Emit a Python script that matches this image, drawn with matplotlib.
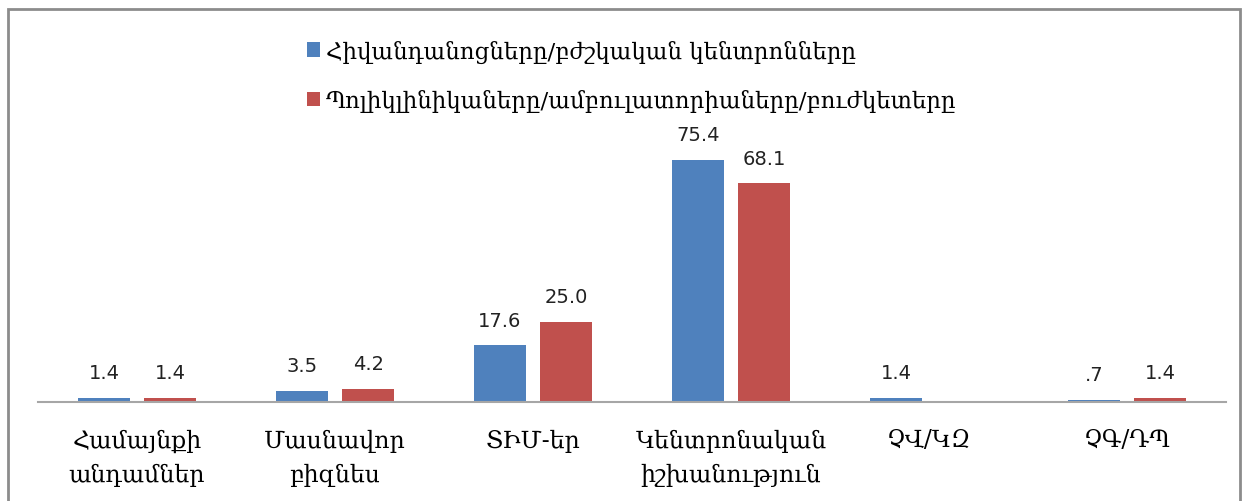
import numpy as np
import matplotlib.pyplot as plt
from matplotlib.patches import Rectangle

categories = ['Համայնքի\nանդամներ', 'Մասնավոր\nբիզնես', 'ՏԻՄ-եր',
              'Կենտրոնական\nիշխանություն', 'ՉՎ/ԿԶ', 'ՉԳ/ԴՊ']
hospitals = [1.4, 3.5, 17.6, 75.4, 1.4, 0.7]
polyclinics = [1.4, 4.2, 25.0, 68.1, np.nan, 1.4]
hospitals_lbl = ['1.4', '3.5', '17.6', '75.4', '1.4', '.7']
polyclinics_lbl = ['1.4', '4.2', '25.0', '68.1', '', '1.4']
series_names = ['Հիվանդանոցները/բժշկական կենտրոնները',
                'Պոլիկլինիկաները/ամբուլատորիաները/բուժկետերը']

blue = '#4f81bd'
red = '#c0504d'
serif = ['DejaVu Serif']

fig = plt.figure(figsize=(12.55, 5.02), dpi=100)
ax = fig.add_axes([38 / 1255, 1 - 403 / 502, 1188 / 1255, 257 / 502])

x = np.arange(len(categories))
w = 0.263
off = 0.167
b1 = ax.bar(x - off, hospitals, w, color=blue, label=series_names[0])
b2 = ax.bar(x + off, polyclinics, w, color=red, label=series_names[1])

for rects, labels in ((b1, hospitals_lbl), (b2, polyclinics_lbl)):
    for r, t in zip(rects, labels):
        if t:
            ax.annotate(t, (r.get_x() + r.get_width() / 2, r.get_height()),
                        xytext=(0, 11), textcoords='offset points',
                        ha='center', va='bottom', fontsize=14, color='#222222')

ax.set_xlim(-0.5, len(categories) - 0.5)
ax.set_ylim(0, 80)
ax.set_xticks(x)
ax.set_xticklabels(categories, fontsize=17, family=serif, linespacing=1.6)
ax.tick_params(axis='x', length=0, pad=19)
ax.set_yticks([])
for s in ['top', 'right', 'left']:
    ax.spines[s].set_visible(False)
ax.spines['bottom'].set_color('#a6a6a6')
ax.spines['bottom'].set_linewidth(1.5)

leg = fig.legend(loc='upper left', bbox_to_anchor=(286 / 1255, 1 - 20 / 502),
                 frameon=False, prop={'family': serif, 'size': 16.5},
                 handlelength=0.6, handleheight=0.6, handletextpad=0.25,
                 labelspacing=1.15)

fig.patches.append(Rectangle((8 / 1255, -0.05), 1232 / 1255, 1.05 - 10 / 502,
                             transform=fig.transFigure, fill=False,
                             edgecolor='#8c8c8c', linewidth=2))

fig.savefig('out.png', dpi=100)
